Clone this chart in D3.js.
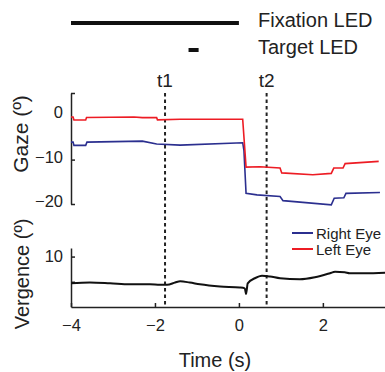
<!DOCTYPE html>
<html>
<head>
<meta charset="utf-8">
<script src="https://cdn.jsdelivr.net/npm/d3@7"></script>
<style>
  html, body { margin: 0; padding: 0; background: #fff; }
  svg { display: block; font-family: "Liberation Sans", Arial, sans-serif; }
</style>
</head>
<body>
<svg id="chart" width="385" height="372"></svg>
<script>
// Event timing (s)
const fixationLED = [-4, 0];
const targetLED = [-1.2, -0.96];
const markerNames = ["t1", "t2"];
const markerTimes = [-1.76, 0.66];

// Gaze traces (deg)
const leftTime = [-4.0, -3.95, -3.93, -3.65, -3.63, -2.5, -2.3, -1.96, -1.94, -1.4, 0.09, 0.17, 0.5, 0.98, 1.02, 1.76, 2.2, 2.26, 2.48, 2.53, 3.33];
const leftEye  = [-0.4, -0.4, -1.07, -1.07, -0.5, -0.4, -0.55, -0.55, -1.05, -0.9, -0.9, -11.7, -11.6, -11.9, -13.0, -13.4, -13.1, -11.9, -11.9, -10.9, -10.4];
const rightTime = [-4.0, -3.95, -3.93, -3.65, -3.62, -2.3, -1.96, -1.4, 0.09, 0.12, 0.17, 0.43, 0.98, 1.05, 2.2, 2.27, 2.5, 2.55, 3.36];
const rightEye  = [-6.07, -6.07, -6.8, -6.8, -6.07, -5.84, -6.5, -6.75, -6.2, -8.0, -17.6, -17.95, -18.3, -19.25, -20.2, -18.7, -18.6, -17.6, -17.4];

// Vergence trace (deg)
const vergTime = [-4.0, -3.55, -3.07, -2.6, -2.12, -1.88, -1.71, -1.52, -1.4, -1.17, -0.93, -0.45, 0.02, 0.14, 0.17, 0.21, 0.38, 0.55, 0.74, 0.98, 1.45, 1.81, 2.17, 2.29, 2.52, 2.64, 3.0, 3.48];
const vergence = [4.7, 4.85, 4.7, 4.5, 4.5, 4.4, 4.4, 4.85, 5.1, 4.85, 4.5, 4.06, 3.86, 3.7, 2.6, 4.7, 5.7, 6.2, 6.06, 5.7, 5.5, 5.9, 6.7, 7.0, 6.9, 6.7, 6.7, 6.8];

// Axis ticks
const timeTicks = [-4, -2, 0, 2];
const gazeTickMarks = [5, -10, -20];
const gazeTickLabels = [0, -10, -20];
const vergTickMarks = [5, 10];
const vergTickLabels = [10];

const legendNames = ["Right Eye", "Left Eye"];
const colors = { right: "#2b2f8f", left: "#ed1c24" };

const svg = d3.select("#chart");
const x = d3.scaleLinear().domain([-4, 3.48]).range([71, 385]);
const yGaze = d3.scaleLinear().domain([5, -20]).range([93, 204]);
const yVerg = d3.scaleLinear().domain([0, 11.7]).range([307, 248]);

// LED bars
svg.append("line").attr("x1", x(fixationLED[0])).attr("x2", x(fixationLED[1]))
  .attr("y1", 23).attr("y2", 23).attr("stroke", "#111").attr("stroke-width", 4);
svg.append("line").attr("x1", x(targetLED[0])).attr("x2", x(targetLED[1]))
  .attr("y1", 50).attr("y2", 50).attr("stroke", "#111").attr("stroke-width", 4);
svg.append("text").attr("x", 258).attr("y", 27).attr("font-size", 20).attr("fill", "#222").text("Fixation LED");
svg.append("text").attr("x", 258).attr("y", 54).attr("font-size", 20).attr("fill", "#222").text("Target LED");

// Gaze y axis: tick marks inward, labels on the left
const gAxis = svg.append("g").attr("transform", `translate(71,0)`);
gAxis.call(d3.axisRight(yGaze).tickValues(gazeTickMarks).tickSize(4).tickSizeOuter(0).tickFormat(""));
const gLab = svg.append("g").attr("transform", `translate(71,-2.5)`);
gLab.call(d3.axisLeft(yGaze).tickValues(gazeTickLabels).tickSize(0).tickPadding(8));
gLab.select(".domain").remove();
gLab.selectAll("text").attr("font-size", 16.5).attr("fill", "#222").attr("font-family", null);

// Vergence axes
const vAxis = svg.append("g").attr("transform", `translate(71,0)`);
vAxis.call(d3.axisRight(yVerg).tickValues(vergTickMarks).tickSize(4).tickSizeOuter(0).tickFormat(""));
const vLab = svg.append("g").attr("transform", `translate(71,0)`);
vLab.call(d3.axisLeft(yVerg).tickValues(vergTickLabels).tickSize(0).tickPadding(8));
vLab.select(".domain").remove();
vLab.selectAll("text").attr("font-size", 16.5).attr("fill", "#222").attr("font-family", null);

const xAxis = svg.append("g").attr("transform", `translate(0,307)`);
xAxis.call(d3.axisBottom(x).tickValues(timeTicks).tickSizeInner(-4).tickSizeOuter(0).tickPadding(12));
xAxis.selectAll("text").attr("font-size", 16.5).attr("fill", "#222").attr("font-family", null);

svg.selectAll(".domain, .tick line").attr("stroke", "#222").attr("stroke-width", 1.5);

// Axis titles
svg.append("text").attr("transform", "translate(28,134) rotate(-90)").attr("text-anchor", "middle")
  .attr("font-size", 21).attr("fill", "#222").text("Gaze (º)");
svg.append("text").attr("transform", "translate(29,274) rotate(-90)").attr("text-anchor", "middle")
  .attr("font-size", 20).attr("fill", "#222").text("Vergence (º)");
svg.append("text").attr("x", 215).attr("y", 367).attr("text-anchor", "middle")
  .attr("font-size", 20).attr("fill", "#222").text("Time (s)");

// Event markers
markerTimes.forEach((t, i) => {
  svg.append("line").attr("x1", x(t)).attr("x2", x(t)).attr("y1", 93).attr("y2", 307)
    .attr("stroke", "#222").attr("stroke-width", 2).attr("stroke-dasharray", "3.5,3");
  svg.append("text").attr("x", x(t)).attr("y", 87).attr("text-anchor", "middle")
    .attr("font-size", 19).attr("fill", "#222").text(markerNames[i]);
});

// Traces
const line = d3.line().x(d => x(d[0]));
svg.append("path").datum(d3.zip(rightTime, rightEye))
  .attr("d", line.y(d => yGaze(d[1]))).attr("fill", "none").attr("stroke", colors.right).attr("stroke-width", 1.6);
svg.append("path").datum(d3.zip(leftTime, leftEye))
  .attr("d", line.y(d => yGaze(d[1]))).attr("fill", "none").attr("stroke", colors.left).attr("stroke-width", 1.6);
svg.append("path").datum(d3.zip(vergTime, vergence))
  .attr("d", d3.line().x(d => x(d[0])).y(d => yVerg(d[1])).curve(d3.curveMonotoneX))
  .attr("fill", "none").attr("stroke", "#111").attr("stroke-width", 2);

// Legend
const legendColors = [colors.right, colors.left];
legendNames.forEach((name, i) => {
  const ly = 233 + i * 16;
  svg.append("line").attr("x1", 292).attr("x2", 313).attr("y1", ly).attr("y2", ly)
    .attr("stroke", legendColors[i]).attr("stroke-width", 2);
  svg.append("text").attr("x", 316).attr("y", ly + 5.5).attr("font-size", 15).attr("fill", "#222").text(name);
});
</script>
</body>
</html>
